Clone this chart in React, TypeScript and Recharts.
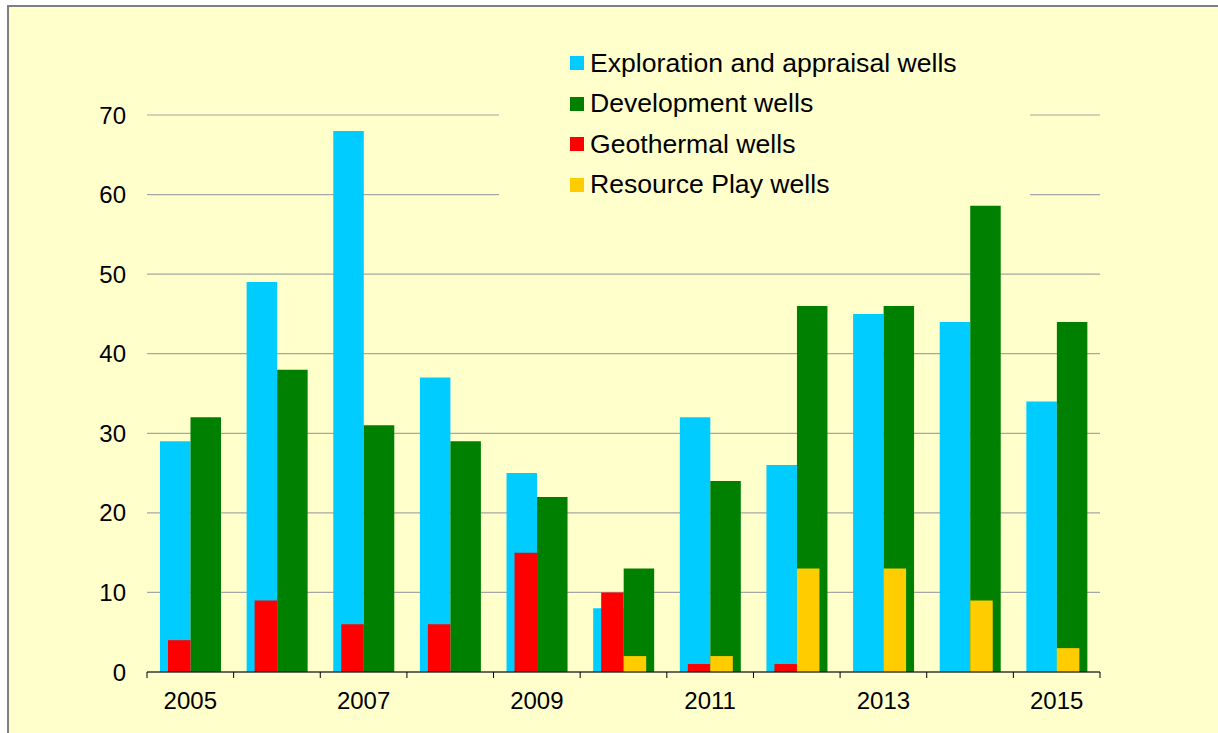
import { BarChart, Bar, XAxis, YAxis, CartesianGrid } from 'recharts';

const years = ['2005', '2006', '2007', '2008', '2009', '2010', '2011', '2012', '2013', '2014', '2015'];
const exploration = [29, 49, 68, 37, 25, 8, 32, 26, 45, 44, 34];
const development = [32, 38, 31, 29, 22, 13, 24, 46, 46, 58.6, 44];
const geothermal = [4, 9, 6, 6, 15, 10, 1, 1, 0, 0, 0];
const resourcePlay = [0, 0, 0, 0, 0, 2, 2, 13, 13, 9, 3];
const yTicks = [0, 10, 20, 30, 40, 50, 60, 70];

const seriesInfo = [
    { name: 'Exploration and appraisal wells', color: '#00CCFF' },
    { name: 'Development wells', color: '#008000' },
    { name: 'Geothermal wells', color: '#FF0000' },
    { name: 'Resource Play wells', color: '#FFCC00' },
];

const FONT = "Arial, 'Liberation Sans', sans-serif";

const chartData = years.map((year, i) => ({
    year,
    exploration: exploration[i],
    development: development[i],
    geothermal: geothermal[i],
    resourcePlay: resourcePlay[i],
}));

// ticks sit between the years, labels only on every other year
const YearTick = (props: any) => {
    const { x, y, payload, index } = props;
    const half = payload && payload.offset ? payload.offset : 43.3;
    return (
        <g>
            <line x1={x - half} x2={x - half} y1={y} y2={y + 6} stroke="#000" />
            {index === years.length - 1 && <line x1={x + half} x2={x + half} y1={y} y2={y + 6} stroke="#000" />}
            {index % 2 === 0 && (
                <text x={x} y={y + 37} textAnchor="middle" fontSize={24} fontFamily={FONT} fill="#000">
                    {payload.value}
                </text>
            )}
        </g>
    );
};

export default function App() {
    return (
        <div
            style={{
                position: 'fixed',
                left: 7,
                top: 5,
                right: 0,
                bottom: 0,
                background: '#FFFFCC',
                borderLeft: '2px solid #7f7f7f',
                borderTop: '2px solid #7f7f7f',
                fontFamily: FONT,
            }}
        >
            <BarChart
                width={1209}
                height={726}
                data={chartData}
                barGap={0}
                margin={{ top: 108, right: 118, bottom: 21, left: 78 }}
            >
                <CartesianGrid xAxisId="main" vertical={false} stroke="#A6A6A6" strokeWidth={1.2} />
                <XAxis
                    xAxisId="main"
                    dataKey="year"
                    interval={0}
                    height={40}
                    tickLine={false}
                    tickSize={0}
                    tickMargin={0}
                    axisLine={{ stroke: '#000' }}
                    tick={<YearTick />}
                />
                <XAxis xAxisId="front" dataKey="year" orientation="top" height={0} hide />
                <YAxis
                    domain={[0, 70]}
                    ticks={yTicks}
                    width={60}
                    axisLine={false}
                    tickLine={false}
                    tickSize={0}
                    tickMargin={21}
                    tick={{ fontSize: 24, fill: '#000', fontFamily: FONT }}
                />
                <Bar xAxisId="main" dataKey="exploration" fill="#00CCFF" barSize={30.5} isAnimationActive={false} />
                <Bar xAxisId="main" dataKey="development" fill="#008000" barSize={30.5} isAnimationActive={false} />
                <Bar xAxisId="front" dataKey="geothermal" fill="#FF0000" barSize={22.5} isAnimationActive={false} />
                <Bar xAxisId="front" dataKey="resourcePlay" fill="#FFCC00" barSize={22.5} isAnimationActive={false} />
            </BarChart>

            {/* legend box covers the top gridlines like the original */}
            <div
                style={{
                    position: 'absolute',
                    left: 490,
                    top: 36,
                    width: 531,
                    background: '#FFFFCC',
                    paddingLeft: 71,
                    boxSizing: 'border-box',
                }}
            >
                {seriesInfo.map((s) => (
                    <div key={s.name} style={{ height: 40.5, display: 'flex', alignItems: 'center', fontSize: 26.6, color: '#000', whiteSpace: 'nowrap' }}>
                        <span style={{ width: 14, height: 14, background: s.color, marginRight: 6, flexShrink: 0 }} />
                        {s.name}
                    </div>
                ))}
            </div>
        </div>
    );
}
